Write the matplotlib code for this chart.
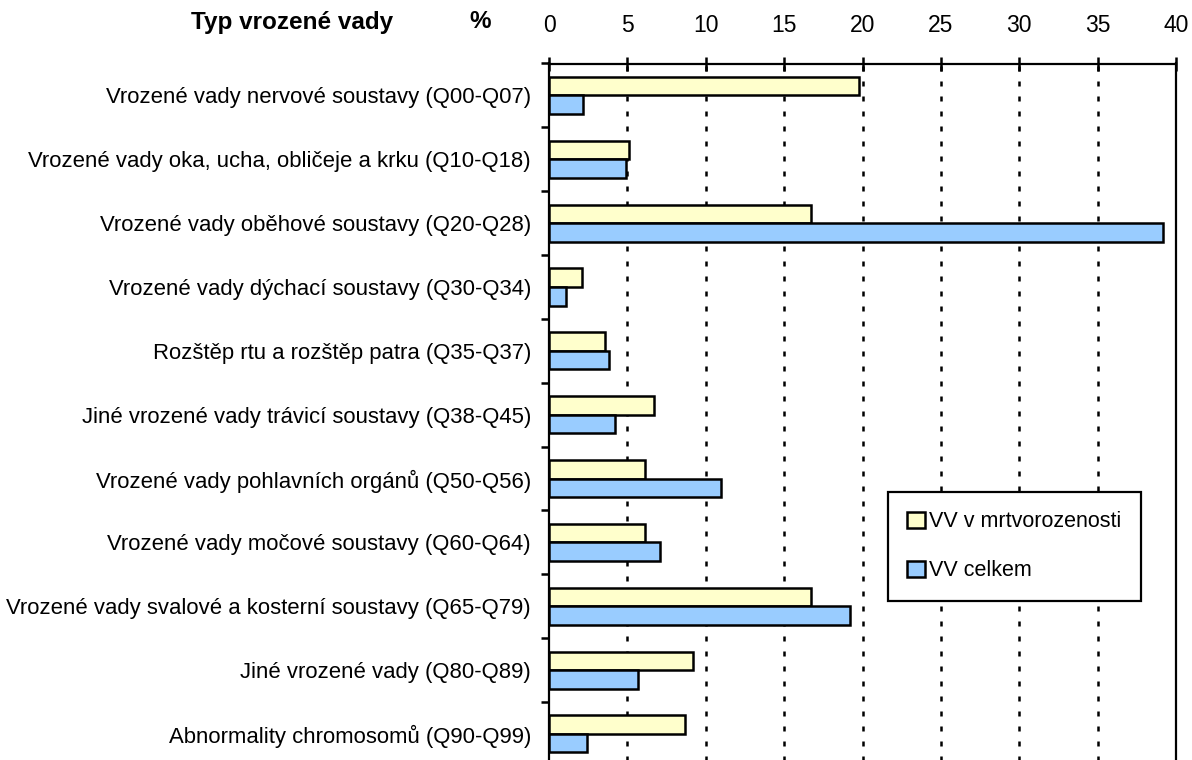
import matplotlib
matplotlib.use("Agg")
import matplotlib.pyplot as plt
import numpy as np

categories = [
    "Vrozené vady nervové soustavy (Q00-Q07)",
    "Vrozené vady oka, ucha, obličeje a krku (Q10-Q18)",
    "Vrozené vady oběhové soustavy (Q20-Q28)",
    "Vrozené vady dýchací soustavy (Q30-Q34)",
    "Rozštěp rtu a rozštěp patra (Q35-Q37)",
    "Jiné vrozené vady trávicí soustavy (Q38-Q45)",
    "Vrozené vady pohlavních orgánů (Q50-Q56)",
    "Vrozené vady močové soustavy (Q60-Q64)",
    "Vrozené vady svalové a kosterní soustavy (Q65-Q79)",
    "Jiné vrozené vady (Q80-Q89)",
    "Abnormality chromosomů (Q90-Q99)",
]
vv_mrtvorozenost = [19.8, 5.1, 16.7, 2.1, 3.6, 6.7, 6.1, 6.1, 16.7, 9.2, 8.7]
vv_celkem = [2.2, 4.9, 39.2, 1.1, 3.8, 4.2, 11.0, 7.1, 19.2, 5.7, 2.4]
x_ticks = [0, 5, 10, 15, 20, 25, 30, 35, 40]
series_labels = ["VV v mrtvorozenosti", "VV celkem"]
header_left = "Typ vrozené vady"
header_unit = "%"

plt.rcParams['font.family'] = ['Liberation Sans', 'DejaVu Sans']
plt.rcParams['lines.scale_dashes'] = False

FS = 15.9

fig = plt.figure(figsize=(11.92, 7.6), dpi=100)
ax = fig.add_axes([549/1192, -5.9/760, (1176-549)/1192, 702.4/760])

y = np.arange(len(categories))
h = 0.29
ax.barh(y - h/2, vv_mrtvorozenost, height=h, color="#FFFFCC", edgecolor="black",
        linewidth=1.8, label=series_labels[0], zorder=3)
ax.barh(y + h/2, vv_celkem, height=h, color="#99CCFF", edgecolor="black",
        linewidth=1.8, label=series_labels[1], zorder=3)

ax.set_xlim(0, 40)
ax.set_ylim(len(categories) - 0.5, -0.5)

ax.xaxis.tick_top()
ax.set_xticks(x_ticks)
ax.set_xticklabels([str(t) for t in x_ticks])
ax.tick_params(axis='x', direction='inout', length=10, width=1.8, pad=14, labelsize=16.5)

ax.set_yticks(y)
ax.set_yticklabels(categories)
ax.tick_params(axis='y', which='major', length=0, pad=13, labelsize=FS)
ax.set_yticks(np.arange(-0.5, len(categories), 1.0), minor=True)
ax.tick_params(axis='y', which='minor', direction='out', length=6, width=1.8)

for xv in x_ticks[1:-1]:
    ax.axvline(xv, color="black", linewidth=1.8, linestyle=(0, (3.6, 7.2)), zorder=1)

for side in ['top', 'left', 'right']:
    ax.spines[side].set_linewidth(1.6)
    ax.spines[side].set_color("black")
ax.spines['bottom'].set_visible(False)

fig.text(292/1192, 1 - 22/760, header_left, ha='center', va='center',
         fontsize=17.5, fontweight='bold')
fig.text(480/1192, 1 - 22/760, header_unit, ha='center', va='center',
         fontsize=17.5, fontweight='bold')

leg = ax.legend(loc='upper left', bbox_to_anchor=(888/1192, 1 - 492/760),
                bbox_transform=fig.transFigure, fontsize=15.5, frameon=True,
                fancybox=False, borderpad=0.9, labelspacing=1.3,
                handlelength=0.8, handleheight=0.8, handletextpad=0.2,
                borderaxespad=0)
leg.get_frame().set_edgecolor("black")
leg.get_frame().set_linewidth(1.6)
leg.get_frame().set_alpha(1)

fig.savefig("out.png", dpi=100)
